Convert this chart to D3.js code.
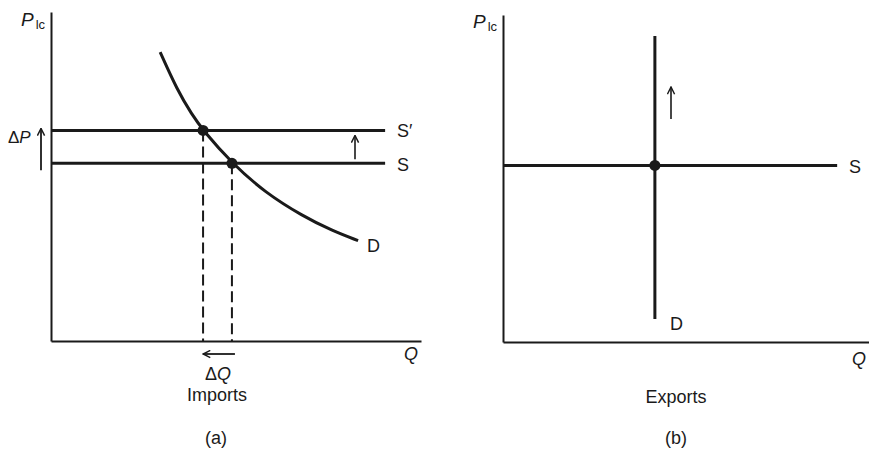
<!DOCTYPE html>
<html>
<head>
<meta charset="utf-8">
<script src="https://cdn.jsdelivr.net/npm/d3@7"></script>
<style>
html,body{margin:0;padding:0;background:#fff;}
svg text{font-family:"Liberation Sans",Arial,sans-serif;fill:#1a1a1a;}
</style>
</head>
<body>
<svg id="chart" width="869" height="452"></svg>
<script>
// ---- Panel (a): Imports ----
const supplyA = 54;          // P level of S
const supplyShiftedA = 64;   // P level of S'
const supplyEndA = 90.3;     // Q where S lines end
const demandQ = [29.5, 34.1, 38.1, 41.1, 48.9, 58, 68, 76, 83];
const demandP = [87.8, 76.3, 68.8, 64, 54, 45, 38, 33.5, 30.5];
const equilibriaA = [{q: 41.1, p: 64}, {q: 48.9, p: 54}];

// ---- Panel (b): Exports ----
const supplyB = 54;
const supplyEndB = 91.3;
const demandB_Q = 41.5;
const demandB_P = [93.6, 7];
const equilibriumB = {q: 41.5, p: 54};

const labelsA = {y: "P", ySub: "lc", x: "Q", title: "Imports", panel: "(a)"};
const labelsB = {y: "P", ySub: "lc", x: "Q", title: "Exports", panel: "(b)"};

const svg = d3.select("#chart");
const ink = "#1a1a1a";

// scales
const xA = d3.scaleLinear().domain([0, 100]).range([51, 421]);
const yA = d3.scaleLinear().domain([0, 100]).range([341, 12]);
const xB = d3.scaleLinear().domain([0, 100]).range([503, 869]);
const yB = d3.scaleLinear().domain([0, 100]).range([342, 15]);

// arrow marker
const defs = svg.append("defs");
defs.append("marker").attr("id", "arr").attr("viewBox", "0 0 10 10")
  .attr("refX", 9).attr("refY", 5).attr("markerWidth", 9).attr("markerHeight", 9)
  .attr("markerUnits", "userSpaceOnUse").attr("orient", "auto")
  .append("path").attr("d", "M1,1 L9,5 L1,9").attr("fill", "none")
  .attr("stroke", ink).attr("stroke-width", 1.6);

function axes(g, x, y) {
  g.append("g").attr("transform", `translate(${x(0)},0)`)
    .call(d3.axisLeft(y).tickValues([]).tickSizeOuter(0))
    .call(s => s.select(".domain").attr("stroke", ink).attr("stroke-width", 2));
  g.append("g").attr("transform", `translate(0,${y(0)})`)
    .call(d3.axisBottom(x).tickValues([]).tickSizeOuter(0))
    .call(s => s.select(".domain").attr("stroke", ink).attr("stroke-width", 2));
}

// ===== Panel A =====
const gA = svg.append("g");
axes(gA, xA, yA);

const line = d3.line();
[supplyShiftedA, supplyA].forEach(p => {
  gA.append("path").attr("d", line([[xA(0), yA(p)], [xA(supplyEndA), yA(p)]]))
    .attr("stroke", ink).attr("stroke-width", 3).attr("fill", "none");
});

const demandLine = d3.line().x(d => xA(d[0])).y(d => yA(d[1])).curve(d3.curveBasis);
gA.append("path").attr("d", demandLine(demandQ.map((q, i) => [q, demandP[i]])))
  .attr("stroke", ink).attr("stroke-width", 3).attr("fill", "none");

equilibriaA.forEach(e => {
  gA.append("line").attr("x1", xA(e.q)).attr("x2", xA(e.q))
    .attr("y1", yA(e.p)).attr("y2", yA(0))
    .attr("stroke", ink).attr("stroke-width", 2).attr("stroke-dasharray", "11,5");
});
equilibriaA.forEach(e => {
  gA.append("circle").attr("cx", xA(e.q)).attr("cy", yA(e.p)).attr("r", 5.5).attr("fill", ink);
});

// ΔQ arrow (pointing left)
gA.append("line").attr("x1", xA(equilibriaA[1].q) + 3).attr("x2", xA(equilibriaA[0].q))
  .attr("y1", 354).attr("y2", 354).attr("stroke", ink).attr("stroke-width", 1.8)
  .attr("marker-end", "url(#arr)");
// ΔP arrow (pointing up)
gA.append("line").attr("x1", 41).attr("x2", 41)
  .attr("y1", yA(supplyA) + 7).attr("y2", yA(supplyShiftedA) - 2)
  .attr("stroke", ink).attr("stroke-width", 1.8).attr("marker-end", "url(#arr)");
// shift arrow near S'
gA.append("line").attr("x1", 355).attr("x2", 355)
  .attr("y1", yA(supplyA) - 4).attr("y2", yA(supplyShiftedA) + 5)
  .attr("stroke", ink).attr("stroke-width", 1.6).attr("marker-end", "url(#arr)");

// labels A
const pA = gA.append("text").attr("x", 21).attr("y", 26).attr("font-size", 19);
pA.append("tspan").attr("font-style", "italic").text(labelsA.y);
pA.append("tspan").attr("dx", 2).attr("dy", 3).attr("font-size", 13).text(labelsA.ySub);
gA.append("text").attr("x", 404).attr("y", 360).attr("font-size", 18)
  .attr("font-style", "italic").text(labelsA.x);
gA.append("text").attr("x", 397).attr("y", 137).attr("font-size", 18).text("S\u2032");
gA.append("text").attr("x", 397).attr("y", 171).attr("font-size", 18).text("S");
gA.append("text").attr("x", 367).attr("y", 252).attr("font-size", 18).text("D");
const dp = gA.append("text").attr("x", 8).attr("y", 143).attr("font-size", 17);
dp.append("tspan").text("\u0394");
dp.append("tspan").attr("font-style", "italic").text("P");
const dq = gA.append("text").attr("x", 218).attr("y", 380).attr("font-size", 18).attr("text-anchor", "middle");
dq.append("tspan").text("\u0394");
dq.append("tspan").attr("font-style", "italic").text("Q");
gA.append("text").attr("x", 217).attr("y", 401).attr("font-size", 18).attr("text-anchor", "middle").text(labelsA.title);
gA.append("text").attr("x", 216).attr("y", 444).attr("font-size", 18).attr("text-anchor", "middle").text(labelsA.panel);

// ===== Panel B =====
const gB = svg.append("g");
axes(gB, xB, yB);

gB.append("path").attr("d", line([[xB(0), yB(supplyB)], [xB(supplyEndB), yB(supplyB)]]))
  .attr("stroke", ink).attr("stroke-width", 3).attr("fill", "none");
gB.append("path").attr("d", line(demandB_P.map(p => [xB(demandB_Q), yB(p)])))
  .attr("stroke", ink).attr("stroke-width", 3).attr("fill", "none");
gB.append("circle").attr("cx", xB(equilibriumB.q)).attr("cy", yB(equilibriumB.p)).attr("r", 5.5).attr("fill", ink);

gB.append("line").attr("x1", 671).attr("x2", 671).attr("y1", 119).attr("y2", 87)
  .attr("stroke", ink).attr("stroke-width", 1.6).attr("marker-end", "url(#arr)");

const pB = gB.append("text").attr("x", 473).attr("y", 28).attr("font-size", 19);
pB.append("tspan").attr("font-style", "italic").text(labelsB.y);
pB.append("tspan").attr("dx", 2).attr("dy", 3).attr("font-size", 13).text(labelsB.ySub);
gB.append("text").attr("x", 852).attr("y", 365).attr("font-size", 18)
  .attr("font-style", "italic").text(labelsB.x);
gB.append("text").attr("x", 849).attr("y", 173).attr("font-size", 18).text("S");
gB.append("text").attr("x", 670).attr("y", 330).attr("font-size", 18).text("D");
gB.append("text").attr("x", 676).attr("y", 403).attr("font-size", 18).attr("text-anchor", "middle").text(labelsB.title);
gB.append("text").attr("x", 676).attr("y", 444).attr("font-size", 18).attr("text-anchor", "middle").text(labelsB.panel);
</script>
</body>
</html>
